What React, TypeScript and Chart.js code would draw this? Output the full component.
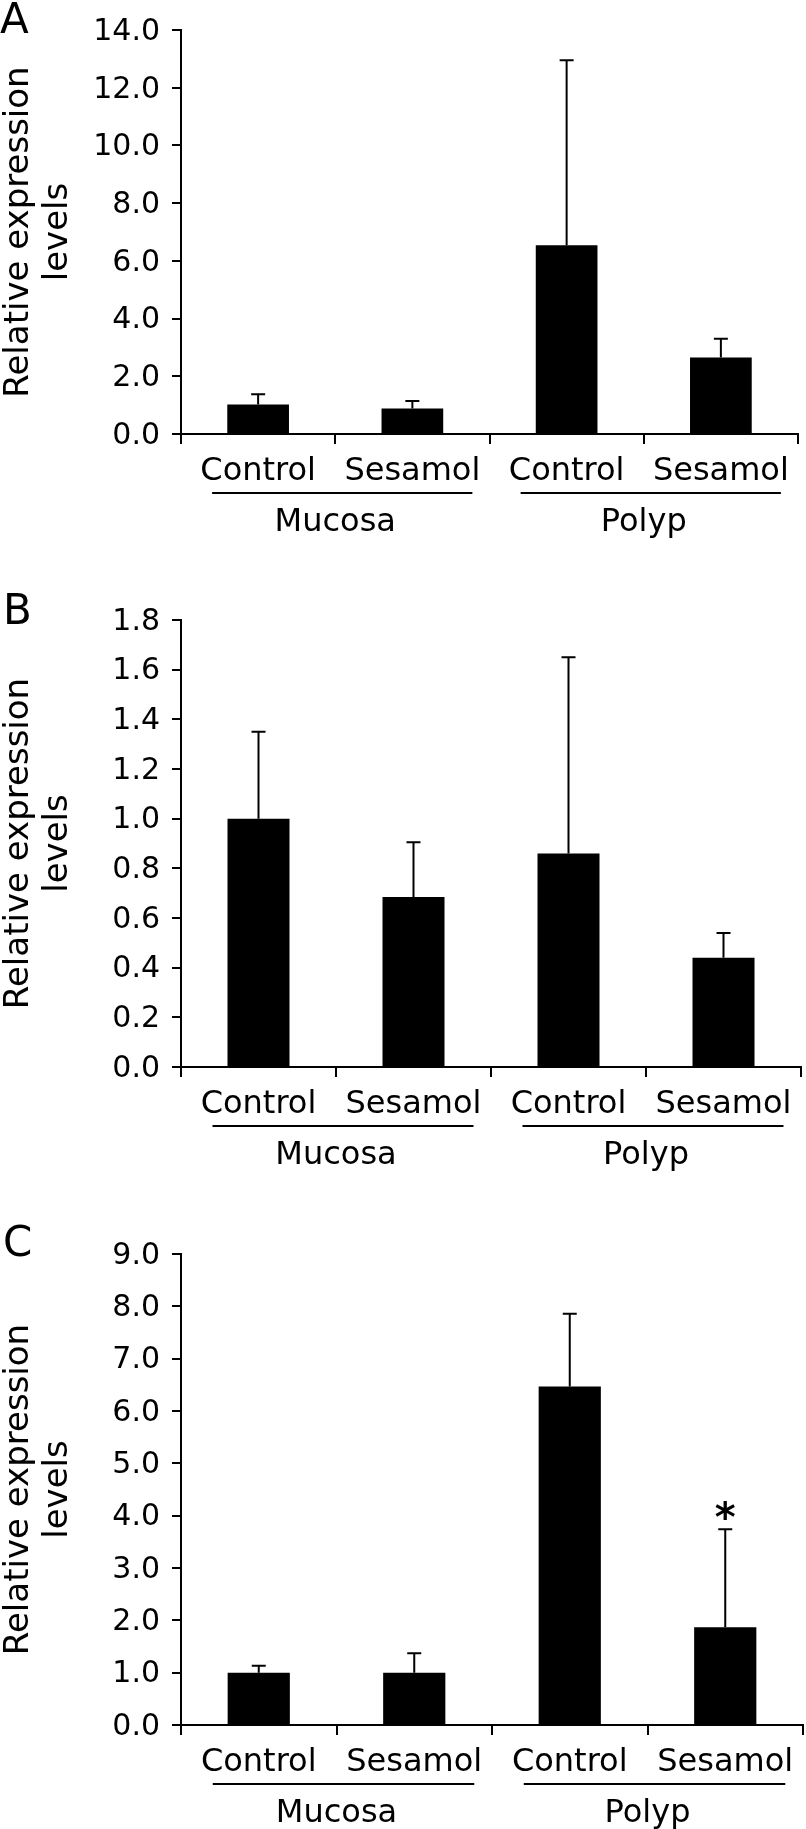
import React, { useEffect, useRef } from 'react';
import { Chart, registerables } from 'chart.js';

Chart.register(...registerables);

const FONT = "'DejaVu Sans', Verdana, sans-serif";

// ---- data ----
const categories = ['Control', 'Sesamol', 'Control', 'Sesamol'];
const groups = ['Mucosa', 'Polyp'];
const groupMembers = [[0, 1], [2, 3]];
const yTitle = ['Relative expression', 'levels'];

const valuesA = [1.02, 0.88, 6.54, 2.65];
const errorsA = [0.36, 0.26, 6.41, 0.65];
const ticksA = [0, 2, 4, 6, 8, 10, 12, 14];
const marksA = ['', '', '', ''];

const valuesB = [1.0, 0.685, 0.86, 0.44];
const errorsB = [0.35, 0.22, 0.79, 0.1];
const ticksB = [0, 0.2, 0.4, 0.6, 0.8, 1.0, 1.2, 1.4, 1.6, 1.8];
const marksB = ['', '', '', ''];

const valuesC = [1.0, 1.0, 6.47, 1.87];
const errorsC = [0.13, 0.37, 1.39, 1.87];
const ticksC = [0, 1, 2, 3, 4, 5, 6, 7, 8, 9];
const marksC = ['', '', '', '*'];

type PanelCfg = {
  letter: string;
  values: number[];
  errors: number[];
  ticks: number[];
  marks: string[];
  top: number;
  height: number;
  padTop: number;
  padBottom: number;
  padRight: number;
  letterX: number;
  letterY: number;
};

const panels: PanelCfg[] = [
  { letter: 'A', values: valuesA, errors: errorsA, ticks: ticksA, marks: marksA, top: 0, height: 560, padTop: 21, padBottom: 26, padRight: 8, letterX: 0, letterY: 33 },
  { letter: 'B', values: valuesB, errors: errorsB, ticks: ticksB, marks: marksB, top: 560, height: 620, padTop: 60, padBottom: 13, padRight: 5, letterX: 3, letterY: 64 },
  { letter: 'C', values: valuesC, errors: errorsC, ticks: ticksC, marks: marksC, top: 1180, height: 649, padTop: 74, padBottom: 4, padRight: 3, letterX: 3, letterY: 76 },
];

function makePlugin(cfg: PanelCfg) {
  return {
    id: 'panelExtras' + cfg.letter,
    afterDatasetsDraw(chart: any) {
      const ctx = chart.ctx;
      const y = chart.scales.y;
      const meta = chart.getDatasetMeta(0);
      ctx.save();
      ctx.strokeStyle = '#000';
      ctx.fillStyle = '#000';
      ctx.lineWidth = 2;
      meta.data.forEach((el: any, i: number) => {
        const x = el.x;
        const yBar = y.getPixelForValue(cfg.values[i]);
        const yTop = y.getPixelForValue(cfg.values[i] + cfg.errors[i]);
        ctx.beginPath();
        ctx.moveTo(x, yBar);
        ctx.lineTo(x, yTop);
        ctx.moveTo(x - 7, yTop);
        ctx.lineTo(x + 7, yTop);
        ctx.stroke();
        if (cfg.marks[i]) {
          ctx.font = `bold 40px ${FONT}`;
          ctx.textAlign = 'center';
          ctx.textBaseline = 'alphabetic';
          ctx.fillText(cfg.marks[i], x, yTop + 2);
        }
      });
      ctx.restore();
    },
    afterDraw(chart: any) {
      const ctx = chart.ctx;
      const xs = chart.scales.x;
      const bottom = chart.chartArea.bottom;
      ctx.save();
      ctx.strokeStyle = '#000';
      ctx.fillStyle = '#000';
      ctx.lineWidth = 2;
      groupMembers.forEach((m, gi) => {
        const x0 = xs.getPixelForValue(m[0]);
        const x1 = xs.getPixelForValue(m[m.length - 1]);
        ctx.beginPath();
        ctx.moveTo(x0 - 46, bottom + 59);
        ctx.lineTo(x1 + 60, bottom + 59);
        ctx.stroke();
        ctx.font = `32px ${FONT}`;
        ctx.textAlign = 'center';
        ctx.textBaseline = 'alphabetic';
        ctx.fillText(groups[gi], (x0 + x1) / 2, bottom + 97);
      });
      ctx.font = `42px ${FONT}`;
      ctx.textAlign = 'left';
      ctx.textBaseline = 'alphabetic';
      ctx.fillText(cfg.letter, cfg.letterX, cfg.letterY);
      ctx.restore();
    },
  };
}

function Panel({ cfg }: { cfg: PanelCfg }) {
  const ref = useRef<HTMLCanvasElement | null>(null);
  useEffect(() => {
    const canvas = ref.current;
    if (!canvas) return;
    const chart = new Chart(canvas, {
      type: 'bar',
      data: {
        labels: categories,
        datasets: [
          {
            data: cfg.values,
            backgroundColor: '#000',
            borderWidth: 0,
            barPercentage: 0.4,
            categoryPercentage: 1.0,
          },
        ],
      },
      options: {
        animation: false,
        responsive: false,
        devicePixelRatio: 1,
        layout: { padding: { top: cfg.padTop, bottom: cfg.padBottom, left: 0, right: cfg.padRight } },
        plugins: { legend: { display: false }, tooltip: { enabled: false }, title: { display: false } },
        scales: {
          x: {
            offset: true,
            afterFit: (s: any) => { s.height = 100; },
            grid: { display: true, drawOnChartArea: false, drawTicks: true, tickLength: 10, color: '#000', lineWidth: 2, offset: true },
            border: { display: true, color: '#000', width: 2 },
            ticks: { color: '#000', font: { family: FONT, size: 32 }, padding: 8, maxRotation: 0, autoSkip: false },
          },
          y: {
            min: cfg.ticks[0],
            max: cfg.ticks[cfg.ticks.length - 1],
            afterFit: (s: any) => { s.width = 181; },
            afterBuildTicks: (s: any) => { s.ticks = cfg.ticks.map((v) => ({ value: v })); },
            grid: { display: true, drawOnChartArea: false, drawTicks: true, tickLength: 9, color: '#000', lineWidth: 2 },
            border: { display: true, color: '#000', width: 2 },
            ticks: {
              color: '#000',
              font: { family: FONT, size: 30 },
              padding: 12,
              labelOffset: 2,
              callback: (v: any) => Number(v).toFixed(1),
            },
            title: {
              display: true,
              text: yTitle,
              color: '#000',
              font: { family: FONT, size: 34, lineHeight: 1.15 },
              padding: { top: 0, bottom: 0 },
            },
          },
        },
      },
      plugins: [makePlugin(cfg)],
    } as any);
    return () => chart.destroy();
  }, [cfg]);
  return (
    <canvas
      ref={ref}
      width={806}
      height={cfg.height}
      style={{ position: 'absolute', left: 0, top: cfg.top, width: 806, height: cfg.height, display: 'block' }}
    />
  );
}

export default function App() {
  return (
    <div style={{ position: 'absolute', left: 0, top: 0, width: 806, height: 1829, background: '#fff', overflow: 'hidden' }}>
      {panels.map((p) => (
        <Panel key={p.letter} cfg={p} />
      ))}
    </div>
  );
}
